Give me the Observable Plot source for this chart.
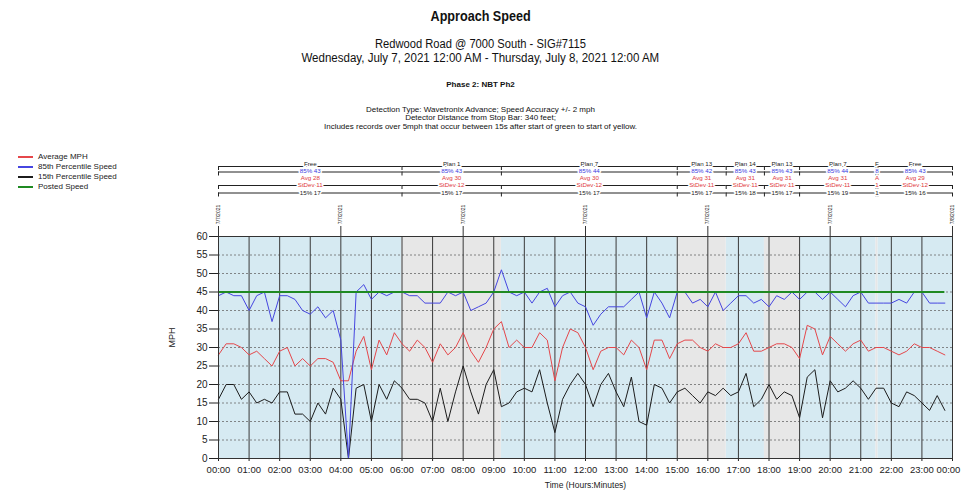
<!DOCTYPE html>
<html>
<head>
<meta charset="utf-8">
<script src="https://cdn.jsdelivr.net/npm/d3@7"></script>
<script src="https://cdn.jsdelivr.net/npm/@observablehq/plot@0.6"></script>
<style>
  body { margin: 0; background: #fff; font-family: "Liberation Sans", Arial, sans-serif; color: #111; }
  #page { position: relative; width: 961px; height: 493px; overflow: hidden; background: #fff; }
  .t { position: absolute; left: 0; width: 961px; text-align: center; white-space: nowrap; line-height: 1; color: #111; }
  .t span { display: inline-block; }
  #legend { position: absolute; left: 18px; top: 152px; font-size: 8px; line-height: 10px; color: #222; }
  #legend div { position: relative; padding-left: 20px; white-space: nowrap; }
  #legend i { position: absolute; left: 0; top: 4px; width: 15px; height: 1.5px; }
  #chart { position: absolute; left: 0; top: 150px; }
</style>
</head>
<body>
<div id="page">
  <div class="t" style="top:9px;font-size:14px;font-weight:bold;"><span style="transform:scaleX(0.9)">Approach Speed</span></div>
  <div class="t" style="top:38px;font-size:12px;"><span style="transform:scaleX(0.93)">Redwood Road @ 7000 South - SIG#7115</span></div>
  <div class="t" style="top:52px;font-size:12px;"><span style="transform:scaleX(0.96)">Wednesday, July 7, 2021 12:00 AM - Thursday, July 8, 2021 12:00 AM</span></div>
  <div class="t" style="top:81px;font-size:8px;font-weight:bold;"><span>Phase 2: NBT Ph2</span></div>
  <div class="t" style="top:106px;font-size:8px;"><span>Detection Type: Wavetronix Advance; Speed Accuracy +/- 2 mph</span></div>
  <div class="t" style="top:114px;font-size:8px;"><span>Detector Distance from Stop Bar: 340 feet;</span></div>
  <div class="t" style="top:123px;font-size:8px;"><span>Includes records over 5mph that occur between 15s after start of green to start of yellow.</span></div>
  <div id="legend"></div>
  <div id="chart"></div>
</div>
<script>
// ---- Data (15-minute bins, 00:00 .. 23:45) ----
const avgMph = [28,31,31,30,28,29,27,25,29,30,25,27,25,27,27,26,21,21,29,33,24,32,28,34,
                31,29,32,30,26,31,28,30,34,29,26,30,35,37,30,32,30,30,34,32,21,30,35,34,
                30,24,29,30,30,28,32,30,24,32,32,27,31,32,32,30,29,31,30,30,31,34,29,29,
                30,31,31,30,27,36,35,28,33,31,29,31,32,29,30,30,29,28,29,31,30,30,29,28];
const p85Speed = [44,45,44,44,40,44,45,37,44,44,43,40,39,41,38,40,32,0,45,47,43,45,44,45,
                  45,44,44,42,42,42,45,44,45,40,41,42,45,51,45,44,45,42,45,46,41,44,45,42,
                  41,36,39,41,41,41,43,45,38,45,42,38,45,45,42,43,41,45,40,42,44,44,42,43,
                  41,44,43,45,43,45,45,43,45,43,41,44,45,42,42,42,42,43,42,45,45,42,42,42];
const p15Speed = [16,20,20,16,18,15,16,15,18,18,12,12,10,15,12,19,16,0,19,20,10,20,16,21,
                  19,16,16,15,10,19,10,18,25,18,12,20,24,14,15,18,19,18,24,15,7,16,20,23,
                  20,14,20,23,18,14,22,10,9,20,19,15,18,19,17,15,18,17,19,17,18,23,14,16,
                  20,16,18,17,11,22,24,11,21,18,19,21,19,16,19,19,15,14,18,17,15,13,17,13];
const postedSpeed = 45;
const binHours = 0.25;

// ---- Plans ----
const planStart = [0, 6, 9.25, 15, 16.6, 17.85, 19, 21.5, 21.56];
const planEnd   = [6, 9.25, 15, 16.6, 17.85, 19, 21.5, 21.56, 24];
const planName  = ["Free","Plan 1","Plan 7","Plan 13","Plan 14","Plan 13","Plan 7","F","Free"];
const plan85    = ["85% 43","85% 43","85% 44","85% 42","85% 43","85% 43","85% 44","8","85% 43"];
const planAvg   = ["Avg 28","Avg 30","Avg 30","Avg 31","Avg 31","Avg 31","Avg 31","A","Avg 29"];
const planSd    = ["StDev 11","StDev 12","StDev 12","StDev 11","StDev 11","StDev 11","StDev 11","1","StDev 12"];
const plan15    = ["15% 17","15% 17","15% 17","15% 17","15% 18","15% 17","15% 19","1","15% 16"];

// ---- Tick labels ----
const xTicks = d3.range(0, 25, 1);
const xTickLabels = ["00:00","01:00","02:00","03:00","04:00","05:00","06:00","07:00","08:00","09:00","10:00","11:00",
                     "12:00","13:00","14:00","15:00","16:00","17:00","18:00","19:00","20:00","21:00","22:00","23:00","00:00"];
const yTicks = d3.range(0, 61, 5);
const dateTickHours = [0, 4, 8, 12, 16, 20, 24];
const dateTickLabels = ["7/7/2021","7/7/2021","7/7/2021","7/7/2021","7/7/2021","7/7/2021","7/8/2021"];

// ---- Series ----
const series = [
  {name: "Average MPH", color: "#e5474b"},
  {name: "85th Percentile Speed", color: "#4646e0"},
  {name: "15th Percentile Speed", color: "#1c1c1c"},
  {name: "Posted Speed", color: "#1f8a22"}
];
const rows = (vals) => vals.map((v, i) => ({t: i * binHours, v}));
const plans = planStart.map((s, i) => ({
  start: s, end: planEnd[i], mid: (s + planEnd[i]) / 2,
  name: planName[i], p85: plan85[i], avg: planAvg[i], sd: planSd[i], p15: plan15[i], i
}));
const boundaries = planStart.concat([24]);
const dateTicks = dateTickHours.map((h, i) => ({h, label: dateTickLabels[i]}));
const xLabelRows = xTicks.map((h, i) => ({h, label: xTickLabels[i]}));

// legend
const lg = document.getElementById("legend");
for (const s of series) {
  const d = document.createElement("div");
  d.innerHTML = `<i style="background:${s.color}"></i>${s.name}`;
  lg.appendChild(d);
}

// layout constants
const H = 343, MT = 86, MB = 35, OFFSET = 150;
const frameTop = MT, frameBottom = H - MB;
const Y = (pagePx) => (frameBottom - (pagePx - OFFSET)) * 60 / (frameBottom - frameTop); // page pixel -> data y

const lineRows = [166, 171.5, 185, 192.5];
const textRows = [
  {y: 164, key: "name", fill: "#222"},
  {y: 171, key: "p85", fill: "#3a3ae0"},
  {y: 178, key: "avg", fill: "#e0393d"},
  {y: 185, key: "sd", fill: "#e0393d"},
  {y: 192.5, key: "p15", fill: "#222"}
];

const marks = [
  Plot.rect(plans.filter(p => p.i % 2 === 0), {x1: "start", x2: "end", y1: 0, y2: 60, fill: "#d6eaf2"}),
  Plot.rect(plans.filter(p => p.i % 2 === 1), {x1: "start", x2: "end", y1: 0, y2: 60, fill: "#e7e7e7"}),
  Plot.ruleY(yTicks.filter(v => v > 0 && v < 60), {stroke: "#6a6a6a", strokeDasharray: "2,2", strokeWidth: 0.8}),
  Plot.ruleX(xTicks.filter(v => v > 0 && v < 24), {stroke: "#3a3a3a", strokeWidth: 1}),
  Plot.line(rows(p15Speed), {x: "t", y: "v", stroke: series[2].color, strokeWidth: 1}),
  Plot.line(rows(avgMph), {x: "t", y: "v", stroke: series[0].color, strokeWidth: 1}),
  Plot.line(rows(p85Speed), {x: "t", y: "v", stroke: series[1].color, strokeWidth: 1}),
  Plot.ruleY([postedSpeed], {x1: 0, x2: (avgMph.length - 1) * binHours, stroke: series[3].color, strokeWidth: 2}),
  Plot.frame({stroke: "#333"}),
  // header plan bars
  ...lineRows.map(py => Plot.ruleY(plans, {y: Y(py), x1: "start", x2: "end", stroke: "#222", strokeWidth: 1})),
  ...lineRows.map(py => Plot.ruleX(boundaries, {x: d => d, y1: Y(py), y2: Y(py + 4), stroke: "#222", strokeWidth: 1})),
  ...textRows.map(r => Plot.text(plans, {
    x: "mid", y: Y(r.y), text: r.key, fill: r.fill, fontSize: 6.2,
    stroke: "white", strokeWidth: 3, paintOrder: "stroke"
  })),
  // date labels
  Plot.text(dateTicks, {x: "h", y: Y(214), text: "label", rotate: -90, fontSize: 5, fill: "#222"}),
  Plot.ruleX(dateTicks, {x: "h", y1: Y(226), y2: 60, stroke: "#333"}),
  // x tick labels (last one nudged to stay inside the page)
  Plot.text(xLabelRows.slice(0, 24), {x: "h", y: 0, dy: 11, text: "label", fontSize: 9.5, fill: "#222"}),
  Plot.text(xLabelRows.slice(24), {x: "h", y: 0, dy: 11, dx: -4, text: "label", fontSize: 9.5, fill: "#222"}),
  // axis titles
  Plot.text(["MPH"], {frameAnchor: "left", text: d => d, rotate: -90, dx: -46, fontSize: 9, fill: "#222"}),
  Plot.text(["Time (Hours:Minutes)"], {frameAnchor: "bottom", text: d => d, dy: 29, fontSize: 8.5, fill: "#222"})
];

const chart = Plot.plot({
  width: 961,
  height: H,
  marginLeft: 218,
  marginRight: 9,
  marginTop: MT,
  marginBottom: MB,
  style: {fontFamily: "'Liberation Sans', Arial, sans-serif", fontSize: "10px", overflow: "visible", background: "transparent", color: "#222"},
  x: {domain: [0, 24], ticks: xTicks, tickFormat: () => "", tickSize: 3, label: null},
  y: {domain: [0, 60], ticks: yTicks, tickSize: 9, tickPadding: 2, label: null},
  marks
});
document.getElementById("chart").appendChild(chart);
</script>
</body>
</html>
